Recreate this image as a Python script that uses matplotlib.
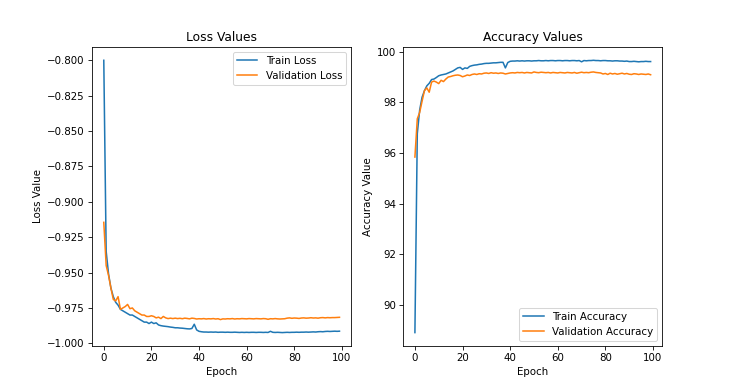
import matplotlib
matplotlib.use("Agg")
import matplotlib.pyplot as plt

# values, one per epoch
train_loss = [-0.800, -0.935, -0.951, -0.961, -0.967, -0.971, -0.973, -0.976, -0.977, -0.978,
              -0.979, -0.980, -0.980, -0.981, -0.982, -0.983, -0.984, -0.985, -0.985, -0.986,
              -0.985, -0.986, -0.9855, -0.987, -0.9875, -0.9878, -0.988, -0.9882, -0.9885, -0.9887,
              -0.989, -0.989, -0.9892, -0.9893, -0.9895, -0.9897, -0.9898, -0.9895, -0.9865, -0.9905,
              -0.9915, -0.9918, -0.992, -0.992, -0.9921, -0.992, -0.9921, -0.992, -0.9922, -0.9921,
              -0.9921, -0.9922, -0.9921, -0.9922, -0.9922, -0.9921, -0.9922, -0.9923, -0.9922, -0.9923,
              -0.9922, -0.9923, -0.9922, -0.9922, -0.9923, -0.9922, -0.9922, -0.9923, -0.9922, -0.9923,
              -0.9915, -0.9922, -0.9923, -0.9922, -0.9923, -0.9924, -0.9923, -0.9922, -0.9923, -0.9922,
              -0.9922, -0.9921, -0.9922, -0.9921, -0.9921, -0.9920, -0.9921, -0.9920, -0.9919, -0.9920,
              -0.9918, -0.9917, -0.9918, -0.9916, -0.9915, -0.9916, -0.9915, -0.9914, -0.9915, -0.9914]
val_loss = [-0.9145, -0.945, -0.952, -0.961, -0.969, -0.970, -0.967, -0.976, -0.975, -0.974,
            -0.9725, -0.9755, -0.975, -0.977, -0.978, -0.979, -0.980, -0.980, -0.981, -0.981,
            -0.9805, -0.981, -0.982, -0.9815, -0.9825, -0.981, -0.982, -0.9825, -0.9822, -0.9825,
            -0.9822, -0.9825, -0.9823, -0.9826, -0.9822, -0.9824, -0.9827, -0.9822, -0.9824, -0.9828,
            -0.9826, -0.9827, -0.9825, -0.9828, -0.9826, -0.9827, -0.9825, -0.9828, -0.9826, -0.9832,
            -0.9827, -0.9828, -0.9826, -0.9827, -0.9825, -0.9828, -0.9826, -0.9827, -0.9825, -0.9826,
            -0.9827, -0.9825, -0.9826, -0.9827, -0.9825, -0.9826, -0.9827, -0.9825, -0.9826, -0.9830,
            -0.9826, -0.9827, -0.9825, -0.9827, -0.9828, -0.9827, -0.9826, -0.9822, -0.9820, -0.9823,
            -0.9821, -0.9822, -0.9824, -0.9821, -0.9820, -0.9822, -0.9821, -0.9819, -0.9821, -0.9820,
            -0.9822, -0.9819, -0.9818, -0.9820, -0.9818, -0.9819, -0.9818, -0.9818, -0.9817, -0.9816]
train_acc = [88.91, 96.76, 97.70, 98.20, 98.46, 98.65, 98.75, 98.90, 98.92, 98.98,
             99.05, 99.08, 99.10, 99.12, 99.16, 99.20, 99.24, 99.30, 99.36, 99.38,
             99.30, 99.36, 99.34, 99.42, 99.45, 99.47, 99.48, 99.50, 99.51, 99.53,
             99.54, 99.54, 99.55, 99.56, 99.56, 99.57, 99.58, 99.58, 99.36, 99.57,
             99.62, 99.63, 99.63, 99.64, 99.63, 99.64, 99.63, 99.64, 99.64, 99.63,
             99.64, 99.64, 99.65, 99.64, 99.64, 99.65, 99.64, 99.65, 99.65, 99.64,
             99.65, 99.65, 99.64, 99.65, 99.65, 99.64, 99.65, 99.65, 99.64, 99.65,
             99.60, 99.65, 99.64, 99.65, 99.65, 99.66, 99.65, 99.65, 99.64, 99.65,
             99.65, 99.64, 99.64, 99.63, 99.64, 99.64, 99.63, 99.63, 99.62, 99.63,
             99.61, 99.61, 99.62, 99.61, 99.60, 99.61, 99.61, 99.62, 99.61, 99.61]
val_acc = [95.84, 97.35, 97.60, 98.04, 98.46, 98.57, 98.40, 98.80, 98.84, 98.80,
           98.74, 98.87, 98.82, 98.92, 99.00, 99.02, 99.05, 99.07, 99.08, 99.06,
           99.01, 99.04, 99.08, 99.06, 99.10, 99.12, 99.10, 99.13, 99.12, 99.15,
           99.16, 99.14, 99.17, 99.15, 99.16, 99.14, 99.16, 99.15, 99.12, 99.14,
           99.16, 99.17, 99.16, 99.18, 99.17, 99.18, 99.16, 99.18, 99.17, 99.16,
           99.20, 99.18, 99.17, 99.19, 99.18, 99.17, 99.18, 99.16, 99.18, 99.17,
           99.16, 99.18, 99.17, 99.16, 99.18, 99.17, 99.16, 99.18, 99.15, 99.17,
           99.19, 99.17, 99.18, 99.17, 99.19, 99.20, 99.18, 99.17, 99.16, 99.12,
           99.14, 99.10, 99.15, 99.12, 99.14, 99.11, 99.13, 99.15, 99.12, 99.14,
           99.11, 99.10, 99.13, 99.12, 99.10, 99.12, 99.11, 99.10, 99.12, 99.09]
epochs = list(range(len(train_loss)))

fig = plt.figure(figsize=(10, 389 / 73.6), dpi=73.6)

plt.subplot(1, 2, 1)
plt.plot(epochs, train_loss, label="Train Loss")
plt.plot(epochs, val_loss, label="Validation Loss")
plt.title("Loss Values")
plt.xlabel("Epoch")
plt.ylabel("Loss Value")
plt.legend()

plt.subplot(1, 2, 2)
plt.plot(epochs, train_acc, label="Train Accuracy")
plt.plot(epochs, val_acc, label="Validation Accuracy")
plt.title("Accuracy Values")
plt.xlabel("Epoch")
plt.ylabel("Accuracy Value")
plt.legend()

plt.savefig("out.png", dpi=73.6)
